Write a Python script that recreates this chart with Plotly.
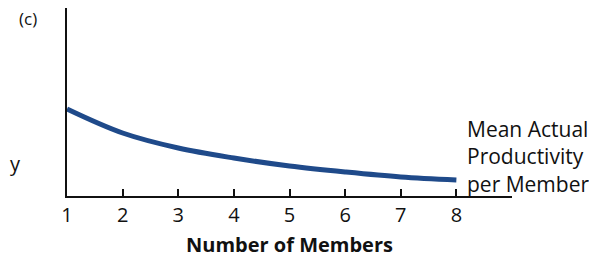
import plotly.graph_objects as go

members = [1, 2, 3, 4, 5, 6, 7, 8]
productivity = [87, 63, 48, 38, 30, 24, 19, 16]
tick_vals = [1, 2, 3, 4, 5, 6, 7, 8]
tick_text = ["1", "2", "3", "4", "5", "6", "7", "8"]
curve_label_lines = ["Mean Actual", "Productivity", "per Member"]

FONT = "Open Sans"
OFF = 8  # default page body margin in the exported html

W, H = 597 - OFF, 260 - OFF
L, R, T, B = 67 - OFF, 85, 8 - OFF, 64
PW, PH = W - L - R, H - T - B


def px_x(x):
    return (x - OFF - L) / PW


def px_y(y):
    return (H - B - (y - OFF)) / PH


fig = go.Figure()
fig.add_trace(go.Scatter(
    x=members, y=productivity, mode="lines",
    line=dict(color="#1f4a8a", width=5, shape="spline"),
    hoverinfo="skip", showlegend=False,
))

annotations = [
    dict(text="<br>".join(curve_label_lines), xref="paper", yref="paper",
         x=px_x(465), y=px_y(156), xanchor="left", yanchor="middle",
         align="left", showarrow=False, font=dict(size=21)),
    dict(text="(c)", xref="paper", yref="paper", x=px_x(17), y=px_y(19),
         xanchor="left", yanchor="middle", showarrow=False, font=dict(size=17)),
    dict(text="y", xref="paper", yref="paper", x=px_x(8), y=px_y(163),
         xanchor="left", yanchor="middle", showarrow=False, font=dict(size=20)),
]

fig.update_layout(
    width=W, height=H,
    margin=dict(l=L, r=R, t=T, b=B, autoexpand=False),
    paper_bgcolor="white", plot_bgcolor="white",
    font=dict(family=FONT, color="#111111", size=20),
    xaxis=dict(
        range=[1, 9], tickvals=tick_vals, ticktext=tick_text,
        showline=True, linecolor="#111111", linewidth=2,
        ticks="inside", ticklen=7, tickwidth=2, tickcolor="#111111",
        showgrid=False, zeroline=False, automargin=False,
        tickfont=dict(size=20),
        title=dict(text="<b>Number of Members</b>", font=dict(size=20), standoff=11),
    ),
    yaxis=dict(
        range=[0, 188], showline=True, linecolor="#111111", linewidth=2,
        showticklabels=False, ticks="", showgrid=False, zeroline=False, automargin=False,
    ),
    annotations=annotations,
)

fig.write_html("out.html")
